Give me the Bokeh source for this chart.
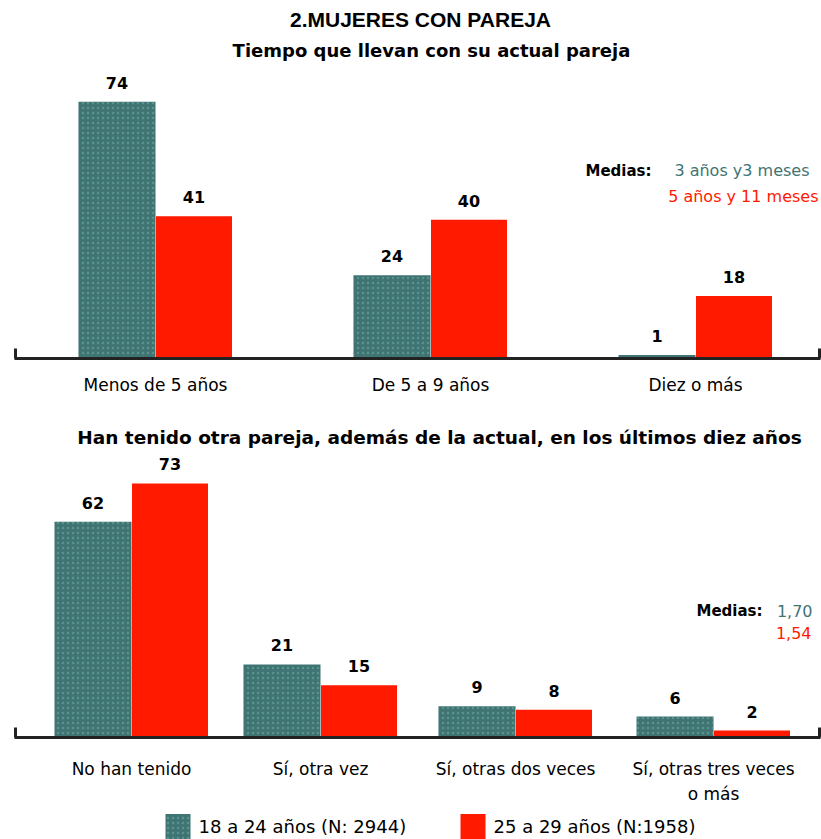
from bokeh.plotting import figure
from bokeh.models import Range1d, ColumnDataSource
from bokeh.core.properties import value
from bokeh.embed import file_html
from bokeh.resources import INLINE

# ---------------- data ----------------
title_main = "2.MUJERES CON PAREJA"
title_top = "Tiempo que llevan con su actual pareja"
title_bottom = "Han tenido otra pareja, además de la actual, en los últimos diez años"

top_cats = ["Menos de 5 años", "De 5 a 9 años", "Diez o más"]
top_18_24 = [74, 24, 1]
top_25_29 = [41, 40, 18]

bot_cats = ["No han tenido", "Sí, otra vez", "Sí, otras dos veces", "Sí, otras tres veces"]
bot_cats_line2 = ["", "", "", "o más"]
bot_18_24 = [62, 21, 9, 6]
bot_25_29 = [73, 15, 8, 2]

series_names = ["18 a 24 años (N: 2944)", "25 a 29 años (N:1958)"]
medias_top = ["3 años y3 meses", "5 años y 11 meses"]
medias_bot = ["1,70", "1,54"]

# ---------------- style / layout ----------------
W, H = 821, 839
TEAL = "#3f7473"
RED = "#ff1a00"
BW = 77
top_centers = [155, 430, 695]
bot_centers = [131, 320, 515, 713]
top_base, top_scale = 358, 3.47
bot_base, bot_scale = 737, 3.48

p = figure(width=W, height=H, output_backend="svg", toolbar_location=None,
           x_range=Range1d(0, W),
           y_range=Range1d(-(H - top_base) / top_scale, top_base / top_scale),
           min_border=0, min_border_left=0, min_border_right=0,
           min_border_top=0, min_border_bottom=0)
p.extra_y_ranges = {
    "bot": Range1d(-(H - bot_base) / bot_scale, bot_base / bot_scale),
    "px": Range1d(H, 0),
}
p.axis.visible = False
p.xgrid.visible = False
p.ygrid.visible = False
p.outline_line_color = None
p.background_fill_color = "white"
p.border_fill_color = "white"

FONT = value("DejaVu Sans")

def bars(centers, v1, v2, yname):
    kw = {} if yname is None else {"y_range_name": yname}
    x1 = [c - BW / 2 for c in centers]
    x2 = [c + BW / 2 for c in centers]
    p.vbar(x=x1, top=v1, bottom=0, width=BW, fill_color=TEAL, line_color=None,
           hatch_pattern="dot", hatch_color="#6aa6a4", hatch_scale=5, hatch_weight=1.2,
           hatch_alpha=0.6, **kw)
    p.vbar(x=x2, top=v2, bottom=0, width=BW - 1, fill_color=RED, line_color=None, **kw)
    src = ColumnDataSource(dict(x=x1 + x2, y=list(v1) + list(v2),
                                t=[str(v) for v in list(v1) + list(v2)]))
    p.text(x="x", y="y", text="t", source=src, y_offset=-13,
           text_align="center", text_baseline="bottom",
           text_font=FONT, text_font_style="bold", text_font_size="16px",
           text_color="black", **kw)

bars(top_centers, top_18_24, top_25_29, None)
bars(bot_centers, bot_18_24, bot_25_29, "bot")

# baselines with end ticks
for yb in (top_base, bot_base):
    p.segment(x0=[14], y0=[yb], x1=[820], y1=[yb], line_color="#222222",
              line_width=3, y_range_name="px")
    p.segment(x0=[15, 819], y0=[yb - 10, yb - 10], x1=[15, 819], y1=[yb, yb],
              line_color="#222222", line_width=3, y_range_name="px")

def ptext(x, y, t, size, color="black", bold=False, align="center", font=FONT):
    p.text(x=[x], y=[y], text=[t], y_range_name="px", text_align=align,
           text_baseline="middle", text_font=font, text_font_size=size,
           text_font_style="bold" if bold else "normal", text_color=color)

# titles
ptext(420, 19, title_main, "21px", bold=True, font=value("Liberation Sans"))
ptext(431, 50, title_top, "18px", bold=True)
ptext(439, 437, title_bottom, "18.5px", bold=True)

# category labels
for c, t in zip(top_centers, top_cats):
    ptext(c, 384, t, "17px")
for c, t, t2 in zip(bot_centers, bot_cats, bot_cats_line2):
    ptext(c, 768, t, "17px")
    if t2:
        ptext(c, 793, t2, "17px")

# medias annotations
ptext(585, 170, "Medias:", "15px", bold=True, align="left")
ptext(809, 170, medias_top[0], "16px", color=TEAL, align="right")
ptext(818, 196, medias_top[1], "16px", color=RED, align="right")
ptext(762, 610, "Medias:", "15px", bold=True, align="right")
ptext(812, 610, medias_bot[0], "16px", color=TEAL, align="right")
ptext(811, 632, medias_bot[1], "16px", color=RED, align="right")

# legend
p.rect(x=[177.5], y=[826], width=25, height=25, y_range_name="px",
       fill_color=TEAL, line_color=None, hatch_pattern="dot", hatch_color="#6aa6a4",
       hatch_scale=5, hatch_weight=1.2, hatch_alpha=0.6)
p.rect(x=[472.5], y=[826], width=25, height=25, y_range_name="px",
       fill_color=RED, line_color=None)
ptext(198, 826, series_names[0], "18px", align="left")
ptext(493, 826, series_names[1], "18px", align="left")

open("out.html", "w").write(file_html(p, INLINE))
